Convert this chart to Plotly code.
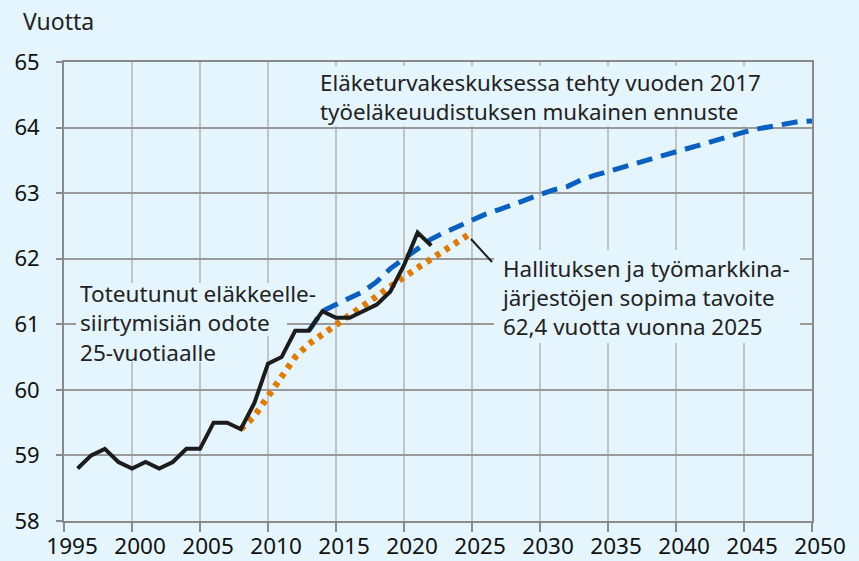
import plotly.graph_objects as go

# ---- data ----
actual_years = list(range(1996, 2023))
actual_values = [58.8, 59.0, 59.1, 58.9, 58.8, 58.9, 58.8, 58.9, 59.1, 59.1,
                 59.5, 59.5, 59.4, 59.8, 60.4, 60.5, 60.9, 60.9, 61.2, 61.1,
                 61.1, 61.2, 61.3, 61.5, 61.9, 62.4, 62.2]

target_years = list(range(2008, 2026))
target_values = [59.4, 59.6, 59.9, 60.2, 60.5, 60.7, 60.85, 61.0, 61.14, 61.28,
                 61.42, 61.57, 61.72, 61.86, 62.0, 62.14, 62.27, 62.4]

forecast_years = list(range(2013, 2051))
forecast_values = [60.9, 61.2, 61.3, 61.4, 61.5, 61.65, 61.85, 62.0, 62.15, 62.3,
                   62.4, 62.5, 62.6, 62.68, 62.75, 62.82, 62.9, 62.98, 63.05, 63.1,
                   63.2, 63.27, 63.33, 63.39, 63.45, 63.51, 63.57, 63.63, 63.7, 63.76,
                   63.82, 63.88, 63.93, 63.98, 64.02, 64.06, 64.09, 64.1]

x_ticks = list(range(1995, 2051, 5))
y_ticks = list(range(58, 66))

y_title = "Vuotta"
forecast_label = ["Eläketurvakeskuksessa tehty vuoden 2017",
                  "työeläkeuudistuksen mukainen ennuste"]
actual_label = ["Toteutunut eläkkeelle-", "siirtymisiän odote", "25-vuotiaalle"]
target_label = ["Hallituksen ja työmarkkina-", "järjestöjen sopima tavoite",
                "62,4 vuotta vuonna 2025"]

BG = "#e5f5fd"
FONT = "Noto Sans"
TXT = "#222222"
W, H = 859, 561
L, R, T, B = 64, 47, 62, 40
PW, PH = W - L - R, H - T - B
X0, X1, Y0, Y1 = 1995, 2050, 58, 65

fig = go.Figure()
fig.add_trace(go.Scatter(x=forecast_years, y=forecast_values, mode="lines",
                         line=dict(color="#0a5fc2", width=5, dash="16px,9px"),
                         hoverinfo="skip", showlegend=False))
fig.add_trace(go.Scatter(x=target_years, y=target_values, mode="lines",
                         line=dict(color="#e07b00", width=6.5, dash="5px,6px"),
                         hoverinfo="skip", showlegend=False))
fig.add_trace(go.Scatter(x=actual_years, y=actual_values, mode="lines",
                         line=dict(color="#1c1c1c", width=4),
                         hoverinfo="skip", showlegend=False))

def pxx(p):  # pixel x -> paper x
    return (p - L) / PW

def pxy(p):  # pixel y -> paper y
    return 1 - (p - T) / PH

def dx(p):  # pixel x -> data x
    return X0 + (p - L) / PW * (X1 - X0)

def dy(p):  # pixel y -> data y
    return Y0 + (T + PH - p) / PH * (Y1 - Y0)

def tf(size):
    return dict(family=FONT, size=size, color=TXT)

# background boxes behind the text blocks (between gridlines and traces)
boxes = [(316, 66, 781, 126), (76, 283, 324, 309), (76, 309, 287, 336),
         (76, 336, 226, 362), (494, 250, 800, 343)]
shapes = [dict(type="rect", xref="x", yref="y", layer="between",
               x0=dx(a), x1=dx(c), y0=dy(d), y1=dy(b),
               fillcolor=BG, line=dict(width=0)) for a, b, c, d in boxes]
shapes.append(dict(type="line", xref="paper", yref="paper",
                   x0=pxx(471), y0=pxy(239), x1=pxx(492), y1=pxy(262),
                   line=dict(color="#1c1c1c", width=2)))

annots = [
    dict(xref="paper", yref="paper", x=pxx(21), y=pxy(21), xanchor="left",
         yanchor="middle", text=y_title, showarrow=False, font=tf(23)),
    dict(xref="paper", yref="paper", x=pxx(319), y=pxy(97), xanchor="left",
         yanchor="middle", text="<br>".join(forecast_label), align="left",
         showarrow=False, borderpad=0, font=tf(22.3)),
    dict(xref="paper", yref="paper", x=pxx(79), y=pxy(322.6), xanchor="left",
         yanchor="middle", text="<br>".join(actual_label), align="left",
         showarrow=False, borderpad=0, font=tf(22.6)),
    dict(xref="paper", yref="paper", x=pxx(500), y=pxy(297), xanchor="left",
         yanchor="middle", text="<br>".join(target_label), align="left",
         showarrow=False, borderpad=0, font=tf(22.4)),
]

fig.update_layout(
    width=W, height=H,
    margin=dict(l=L, r=R, t=T, b=B, autoexpand=False),
    paper_bgcolor=BG, plot_bgcolor=BG,
    annotations=annots,
    shapes=shapes,
    xaxis=dict(range=[X0, X1], tickvals=x_ticks, ticks="outside", ticklen=9,
               tickcolor="#8a8a8a", tickwidth=1.5, showgrid=True, gridcolor="#c4c4c4",
               gridwidth=1.5, showline=True, linecolor="#8a8a8a", linewidth=2,
               mirror=True, zeroline=False, ticklabelshift=8, ticklabelstandoff=-5,
               automargin=False,
               tickfont=dict(family=FONT, size=22.5, color="#111111")),
    yaxis=dict(range=[Y0, Y1], tickvals=y_ticks, ticks="outside", ticklen=6,
               tickcolor="#8a8a8a", tickwidth=1.5, showgrid=True, gridcolor="#9a9a9a",
               gridwidth=1.5, showline=True, linecolor="#8a8a8a", linewidth=2,
               mirror=True, zeroline=False, ticklabelstandoff=12, automargin=False,
               tickfont=dict(family=FONT, size=22, color="#111111")),
)

fig.write_html("out.html", config={"displayModeBar": False},
               post_script="document.body.style.margin='0';"
                           "document.body.style.background='" + BG + "';")
